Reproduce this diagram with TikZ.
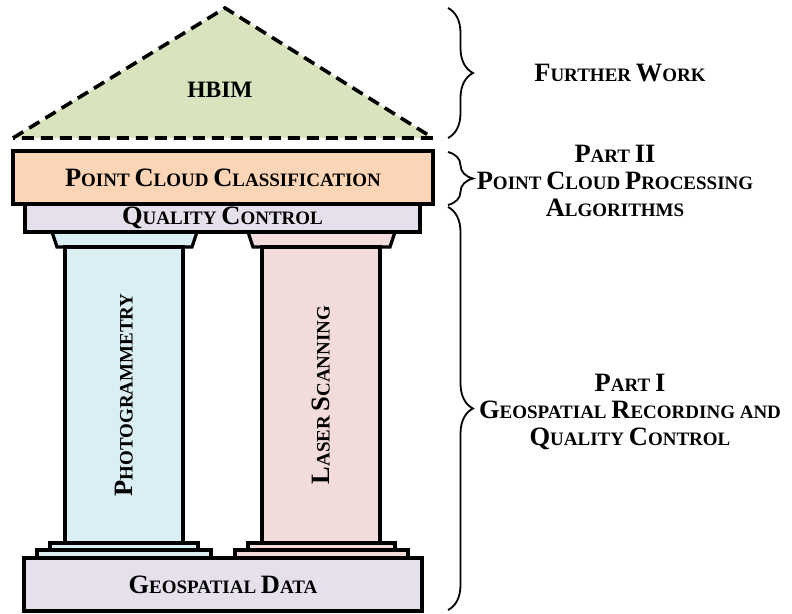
\documentclass[tikz,border=0pt]{standalone}
\usepackage{fontspec}
\setmainfont{Liberation Serif}
\usetikzlibrary{decorations.pathreplacing}
\definecolor{hbimgreen}{HTML}{D7E4BD}
\definecolor{peach}{HTML}{FBD5B5}
\definecolor{lavender}{HTML}{E5E0EC}
\definecolor{colblue}{HTML}{DAEEF3}
\definecolor{colpink}{HTML}{F2DCDB}
\newcommand{\ini}[1]{{\fontsize{26.5}{27}\selectfont#1}}
\tikzset{
	slab/.style={draw,line width=3.3pt,inner sep=0pt,font=\bfseries\fontsize{19}{27}\selectfont},
	trim/.style={draw,line width=3.3pt},
	curly/.style={decorate,decoration={brace,amplitude=25pt},line width=1.8pt},
	parttext/.style={align=center,inner sep=0pt,font=\bfseries\fontsize{19}{27}\selectfont}
}
\begin{document}
\begin{tikzpicture}[x=1pt,y=-1pt]
			\useasboundingbox(0,0)rectangle(792,613);
			\draw[trim,fill=hbimgreen,line width=3.6pt,dash pattern=on 12pt off 7pt](13,138)--(225,8)--(433,138)--cycle;
			\node[font=\bfseries\fontsize{23.5}{27}\selectfont](hbim)at(220,90){HBIM};
			\draw[trim,fill=colblue](52,232)--(197,232)--(192,247)--(57,247)--cycle;
			\draw[trim,fill=colpink](248,232)--(395,232)--(390,247)--(253,247)--cycle;
			\draw[trim,fill=colblue](37,550)rectangle(211,558);
			\draw[trim,fill=colblue](50,543)rectangle(198,550);
			\draw[trim,fill=colpink](235,550)rectangle(408,558);
			\draw[trim,fill=colpink](248,543)rectangle(395,550);
			\node[slab,rotate=90,fill=colblue,minimum width=296pt,minimum height=118pt](photo)at(124,395){\ini{P}HOTOGRAMMETRY};
			\node[slab,rotate=90,fill=colpink,minimum width=296pt,minimum height=118pt](laser)at(321,395){\ini{L}ASER \ini{S}CANNING};
			\node[slab,fill=lavender,minimum width=395pt,minimum height=28pt](qc)at(222.5,218){\ini{Q}UALITY \ini{C}ONTROL};
			\node[slab,fill=peach,minimum width=420pt,minimum height=53pt](pcc)at(223,177.5){\ini{P}OINT \ini{C}LOUD \ini{C}LASSIFICATION};
			\node[slab,fill=lavender,minimum width=398pt,minimum height=53pt](geo)at(223,584.5){\ini{G}EOSPATIAL \ini{D}ATA};
			\coordinate(fw1)at(448,8);
			\coordinate(fw2)at(448,138);
			\coordinate(pb1)at(448,152);
			\coordinate(pb2)at(448,205);
			\coordinate(pa1)at(448,207);
			\coordinate(pa2)at(448,610);
			\draw[curly](fw1)--(fw2);
			\draw[curly](pb1)--(pb2);
			\draw[curly](pa1)--(pa2);
			\node[parttext](fw)at(620,73){\ini{F}URTHER \ini{W}ORK};
			\node[parttext](p2)at(615,181){\ini{P}ART \ini{II}\\\ini{P}OINT \ini{C}LOUD \ini{P}ROCESSING\\\ini{A}LGORITHMS};
			\node[parttext](p1)at(630,412){\ini{P}ART \ini{I}\\\ini{G}EOSPATIAL \ini{R}ECORDING AND\\\ini{Q}UALITY \ini{C}ONTROL};
		\end{tikzpicture}
\end{document}
